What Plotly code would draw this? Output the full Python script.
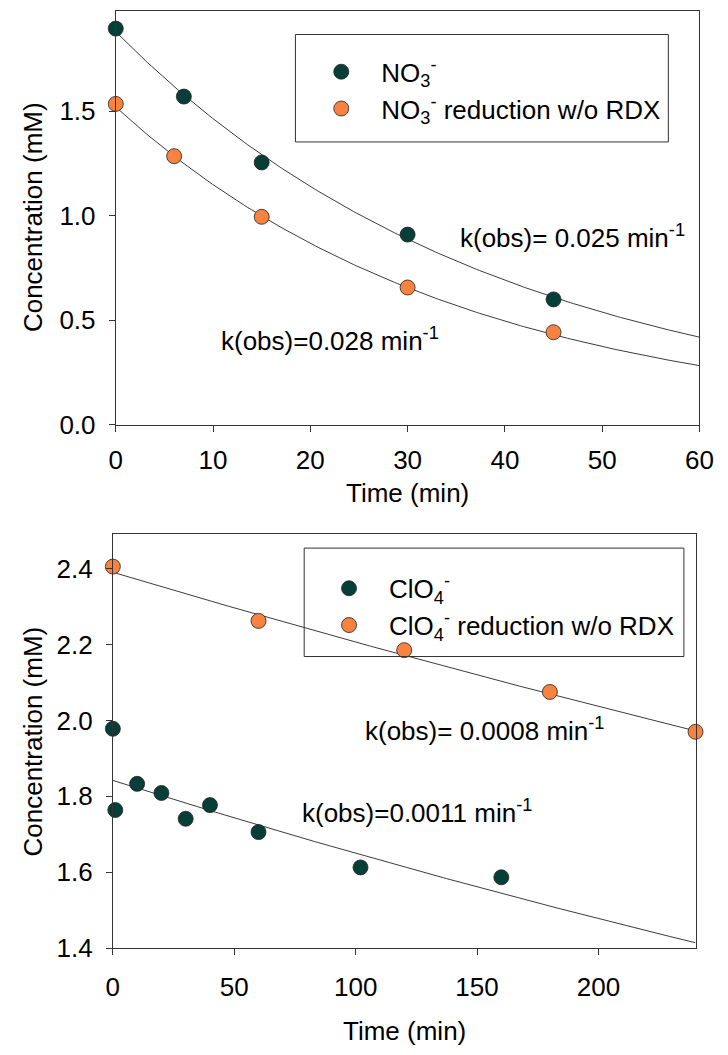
import numpy as np
import plotly.graph_objects as go

# ---------------- data ----------------
# Top panel: nitrate
no3_t = [0, 7, 15, 30, 45]
no3_c = [1.895, 1.57, 1.255, 0.91, 0.60]
no3_red_t = [0, 6, 15, 30, 45]
no3_red_c = [1.535, 1.285, 0.995, 0.657, 0.443]
no3_fit = {"c0": 1.88, "k": 0.025}
no3_red_fit = {"c0": 1.52, "k": 0.028}

# Bottom panel: perchlorate
clo4_t = [0, 1, 10, 20, 30, 40, 60, 102, 160]
clo4_c = [1.978, 1.764, 1.833, 1.809, 1.741, 1.777, 1.706, 1.613, 1.587]
clo4_red_t = [0, 60, 120, 180, 240]
clo4_red_c = [2.405, 2.262, 2.185, 2.075, 1.97]
clo4_fit = {"c0": 1.842, "k": 0.0011}
clo4_red_fit = {"c0": 2.39, "k": 0.0008}

top_xticks = [0, 10, 20, 30, 40, 50, 60]
top_yticks = [0.0, 0.5, 1.0, 1.5]
bot_xticks = [0, 50, 100, 150, 200]
bot_yticks = [1.4, 1.6, 1.8, 2.0, 2.2, 2.4]

DARK = "#063f38"
ORANGE = "#f8823f"
LINE = "#3c3c3c"
FONT = "Liberation Sans, Arial, sans-serif"
FS = 26
W, H = 728, 1055

fig = go.Figure()


def fit_curve(p, tmax):
    t = np.linspace(0, tmax, 200)
    return t, p["c0"] * np.exp(-p["k"] * t)


for p, tmax, xa, ya in [(no3_fit, 60, "x", "y"), (no3_red_fit, 60, "x", "y"),
                        (clo4_fit, 240, "x2", "y2"), (clo4_red_fit, 240, "x2", "y2")]:
    t, c = fit_curve(p, tmax)
    fig.add_trace(go.Scatter(x=t, y=c, mode="lines", xaxis=xa, yaxis=ya,
                             line=dict(color=LINE, width=1), showlegend=False,
                             hoverinfo="skip"))

mk = lambda col: dict(color=col, size=15, line=dict(color="#222222", width=0.8))

fig.add_trace(go.Scatter(x=no3_t, y=no3_c, mode="markers", name="NO<sub>3</sub><sup>-</sup>",
                         marker=mk(DARK), xaxis="x", yaxis="y", legend="legend",
                         cliponaxis=False))
fig.add_trace(go.Scatter(x=no3_red_t, y=no3_red_c, mode="markers",
                         name="NO<sub>3</sub><sup>-</sup> reduction w/o RDX",
                         marker=mk(ORANGE), xaxis="x", yaxis="y", legend="legend",
                         cliponaxis=False))
fig.add_trace(go.Scatter(x=clo4_t, y=clo4_c, mode="markers", name="ClO<sub>4</sub><sup>-</sup>",
                         marker=mk(DARK), xaxis="x2", yaxis="y2", legend="legend2",
                         cliponaxis=False))
fig.add_trace(go.Scatter(x=clo4_red_t, y=clo4_red_c, mode="markers",
                         name="ClO<sub>4</sub><sup>-</sup> reduction w/o RDX",
                         marker=mk(ORANGE), xaxis="x2", yaxis="y2", legend="legend2",
                         cliponaxis=False))

axis_common = dict(showline=True, linecolor="#333333", linewidth=1, mirror=True,
                   ticks="outside", ticklen=6, tickcolor="#333333", showgrid=False,
                   zeroline=False, tickfont=dict(size=FS, color="black", family=FONT))

top_x = [112 / W, 713 / W]
top_y = [1 - 431 / H, 1 - 11 / H]
bot_x = [109 / W, 709 / W]
bot_y = [1 - 962 / H, 1 - 542 / H]

legend_common = dict(xanchor="left", yanchor="top", bgcolor="rgba(0,0,0,0)",
                     borderwidth=0, itemwidth=70, font=dict(size=FS, family=FONT),
                     tracegroupgap=0)

fig.update_layout(
    width=W, height=H,
    margin=dict(l=0, r=0, t=0, b=0),
    paper_bgcolor="white", plot_bgcolor="white",
    font=dict(family=FONT, color="black", size=FS),
    xaxis=dict(domain=top_x, anchor="y", range=[0, 60], tickvals=top_xticks,
               ticklabelstandoff=6, **axis_common),
    yaxis=dict(domain=top_y, anchor="x", range=[0, 1.98], tickvals=top_yticks,
               tickformat=".1f", ticklabelstandoff=8, **axis_common),
    xaxis2=dict(domain=bot_x, anchor="y2", range=[0, 240], tickvals=bot_xticks,
                ticklabelstandoff=9, **axis_common),
    yaxis2=dict(domain=bot_y, anchor="x2", range=[1.4, 2.49], tickvals=bot_yticks,
                tickformat=".1f", ticklabelstandoff=8, **axis_common),
    legend=dict(x=303 / W, y=1 - 49 / H, **legend_common),
    legend2=dict(x=311 / W, y=1 - 573 / H, **legend_common),
    shapes=[
        dict(type="rect", xref="paper", yref="paper", x0=297 / W, x1=681 / W,
             y0=1 - 144 / H, y1=1 - 35 / H, line=dict(color="#333333", width=1)),
        dict(type="rect", xref="paper", yref="paper", x0=306 / W, x1=697 / W,
             y0=1 - 666 / H, y1=1 - 556 / H, line=dict(color="#333333", width=1)),
    ],
    annotations=[
        dict(text="Concentration (mM)", xref="paper", yref="paper", x=27 / W, y=1 - 220 / H,
             xanchor="center", yanchor="middle", textangle=-90, showarrow=False),
        dict(text="Time (min)", xref="paper", yref="paper", x=412 / W, y=1 - 500 / H,
             xanchor="center", yanchor="middle", showarrow=False),
        dict(text="Concentration (mM)", xref="paper", yref="paper", x=27 / W, y=1 - 752 / H,
             xanchor="center", yanchor="middle", textangle=-90, showarrow=False),
        dict(text="Time (min)", xref="paper", yref="paper", x=409 / W, y=1 - 1046 / H,
             xanchor="center", yanchor="middle", showarrow=False),
        dict(text="k(obs)= 0.025 min<sup>-1</sup>", xref="x", yref="y", x=35.2, y=0.90,
             xanchor="left", yanchor="middle", showarrow=False),
        dict(text="k(obs)=0.028 min<sup>-1</sup>", xref="x", yref="y", x=10.6, y=0.41,
             xanchor="left", yanchor="middle", showarrow=False),
        dict(text="k(obs)= 0.0008 min<sup>-1</sup>", xref="x2", yref="y2", x=103.2, y=1.975,
             xanchor="left", yanchor="middle", showarrow=False),
        dict(text="k(obs)=0.0011 min<sup>-1</sup>", xref="x2", yref="y2", x=77.2, y=1.76,
             xanchor="left", yanchor="middle", showarrow=False),
    ],
)

fig.write_html("out.html")
